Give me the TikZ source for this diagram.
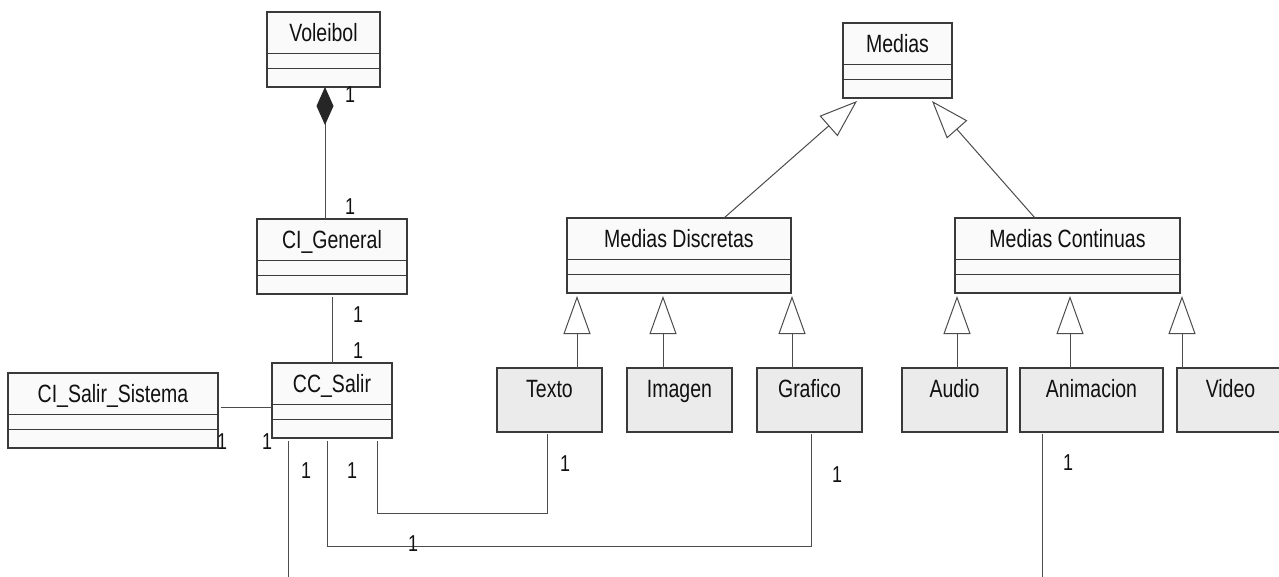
\documentclass[tikz,border=0pt]{standalone}
\usepackage{fontspec}
\setmainfont{Liberation Sans}[FakeStretch=0.78]
\usetikzlibrary{arrows.meta}

\definecolor{boxline}{HTML}{3A3A3A}
\definecolor{wireline}{HTML}{4C4C4C}
\definecolor{classfill}{HTML}{FAFAFA}
\definecolor{leaffill}{HTML}{EBEBEB}
\definecolor{inkcol}{HTML}{111111}

\tikzset{
  clsbox/.style={draw=boxline, line width=1.2pt, fill=classfill, minimum height=75pt,
    inner sep=0pt, outer sep=0pt, anchor=north west},
  leafbox/.style={draw=boxline, line width=1.2pt, fill=leaffill, minimum height=64pt,
    inner sep=0pt, outer sep=0pt, anchor=north west},
  divider/.style={draw=boxline, line width=1pt},
  boxtext/.style={font=\fontsize{25}{29}\selectfont, text=inkcol, inner sep=0pt,
    text height=17.9pt, text depth=0pt},
  mult/.style={font=\fontsize{23}{27}\selectfont, text=inkcol, inner sep=0pt,
    text height=16.5pt, text depth=0pt},
  wire/.style={draw=wireline, line width=1pt},
  inherit/.style={wire, -{Triangle[open, length=38pt, width=27pt, line width=1pt]}},
  compose/.style={wire, -{Diamond[length=38pt, width=17pt, color=black!85]}},
}

% class box: name, left x, top y, width, title
\newcommand{\umlclass}[5]{%
  \node[clsbox, minimum width=#4pt] (#1) at (#2,#3) {};
  \node[boxtext] (#1-name) at ([yshift=-20.5pt]#1.north) {#5};
  \draw[divider] ([yshift=-41pt]#1.north west) -- ([yshift=-41pt]#1.north east);
  \draw[divider] ([yshift=-56pt]#1.north west) -- ([yshift=-56pt]#1.north east);
}
% leaf class (filled box without compartments)
\newcommand{\umlleaf}[5]{%
  \node[leafbox, minimum width=#4pt] (#1) at (#2,#3) {};
  \node[boxtext] (#1-name) at ([yshift=-20.5pt]#1.north) {#5};
}

\begin{document}
\begin{tikzpicture}[x=1pt, y=-1pt]
  \useasboundingbox (0,0) rectangle (1279,576);
  \clip (0,0) rectangle (1279,576);
  \fill[white] (0,0) rectangle (1279,576);

  % left group
  \umlclass{voleibol}{267}{12}{113}{Voleibol}
  \umlclass{cigeneral}{257}{219}{150}{CI\_General}
  \umlclass{ccsalir}{272}{363}{120}{CC\_Salir}
  \umlclass{cisalir}{8}{373}{210}{CI\_Salir\_Sistema}

  % media hierarchy
  \umlclass{medias}{843}{23}{109}{Medias}
  \umlclass{mdisc}{567}{218}{224}{Medias Discretas}
  \umlclass{mcont}{955}{218}{225}{Medias Continuas}

  \umlleaf{texto}{497}{368}{105}{Texto}
  \umlleaf{imagen}{627}{368}{105}{Imagen}
  \umlleaf{grafico}{757}{368}{105}{Grafico}
  \umlleaf{audio}{902}{368}{105}{Audio}
  \umlleaf{animacion}{1020}{368}{143}{Animacion}
  \umlleaf{video}{1177}{368}{107}{Video}

  % composition and associations
  \draw[compose] ([xshift=-7pt]cigeneral.north) -- ([xshift=1.5pt]voleibol.south);
  \draw[wire, shorten <=3pt] (cigeneral.south) -- (ccsalir.north);
  \draw[wire, shorten <=3pt] ([yshift=-34pt]cisalir.north east) -- ([yshift=-44pt]ccsalir.north west);
  \draw[wire, shorten <=3pt, shorten >=2pt] ([xshift=-15pt]ccsalir.south east) -- ++(0,75)
    -| ([xshift=-2.5pt]texto.south);
  \draw[wire, shorten <=3pt, shorten >=2pt] ([xshift=-5pt]ccsalir.south) -- ++(0,108)
    -| ([xshift=1.5pt]grafico.south);
  \coordinate (ccsalir-out) at (288,580);
  \draw[wire, shorten <=3pt] (ccsalir.south west -| ccsalir-out) -- (ccsalir-out);
  \coordinate (anim-out) at (1042,580);
  \draw[wire, shorten <=2pt] (animacion.south -| anim-out) -- (anim-out);

  % generalizations
  \draw[inherit] ([xshift=45pt]mdisc.north) -- ([xshift=14pt,yshift=-3pt]medias.south west);
  \draw[inherit] ([xshift=-32.5pt]mcont.north) -- ([xshift=-20pt,yshift=-3pt]medias.south east);
  \draw[inherit, shorten >=3pt] ([xshift=27.5pt]texto.north) -- ([xshift=27.5pt]texto.north |- mdisc.south);
  \draw[inherit, shorten >=3pt] ([xshift=-16.5pt]imagen.north) -- ([xshift=-16.5pt]imagen.north |- mdisc.south);
  \draw[inherit, shorten >=3pt] ([xshift=-17.5pt]grafico.north) -- ([xshift=-17.5pt]grafico.north |- mdisc.south);
  \draw[inherit, shorten >=3pt] ([xshift=2.5pt]audio.north) -- ([xshift=2.5pt]audio.north |- mcont.south);
  \draw[inherit, shorten >=3pt] ([xshift=-21.5pt]animacion.north) -- ([xshift=-21.5pt]animacion.north |- mcont.south);
  \draw[inherit, shorten >=3pt] ([xshift=5pt]video.north west) -- ([xshift=5pt]video.north west |- mcont.south);

  % multiplicities
  \node[mult] (m-vol) at (350,94) {1};
  \node[mult] (m-gen-top) at (350,206) {1};
  \node[mult] (m-gen-bot) at (358,314) {1};
  \node[mult] (m-cc-top) at (358,350) {1};
  \node[mult] (m-sis) at (222,441) {1};
  \node[mult] (m-cc-left) at (267,441) {1};
  \node[mult] (m-cc-a) at (306,470) {1};
  \node[mult] (m-cc-b) at (352,470) {1};
  \node[mult] (m-graf-h) at (413,543) {1};
  \node[mult] (m-texto) at (565,463) {1};
  \node[mult] (m-graf) at (837,474) {1};
  \node[mult] (m-anim) at (1068,462) {1};
\end{tikzpicture}
\end{document}
